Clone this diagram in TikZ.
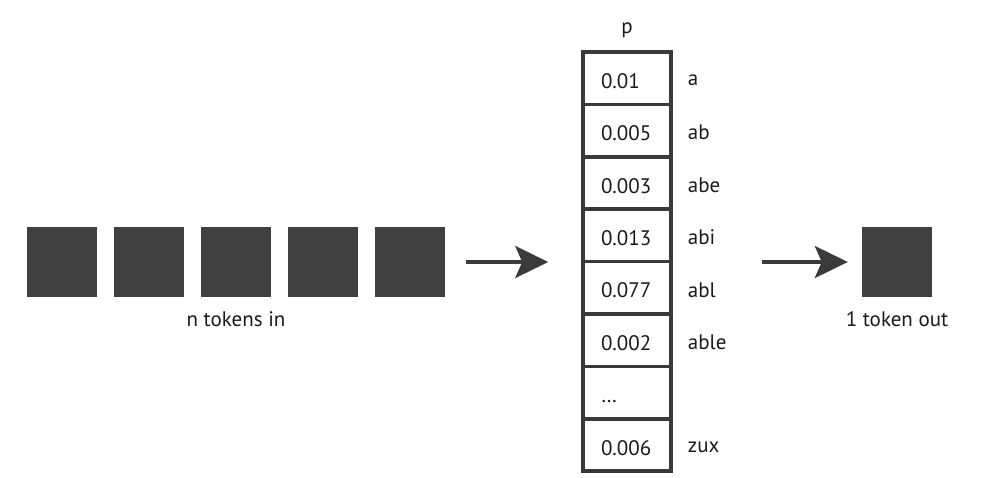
\documentclass[tikz,border=0pt]{standalone}
\usepackage{fontspec}
\setmainfont{PT Sans}
\usetikzlibrary{positioning,arrows.meta}
\definecolor{tokgray}{HTML}{404040}
\definecolor{linegray}{HTML}{3A3A3A}
\definecolor{txtgray}{HTML}{1A1A1A}
\tikzset{
  token/.style={fill=tokgray, minimum size=70pt, inner sep=0pt},
  cell/.style={draw=linegray, line width=3.5pt, minimum height=52.4pt, inner xsep=18pt,
    text width=52pt, text height=20pt, text depth=0pt, align=left, text=txtgray,
    font=\fontsize{21}{25}\selectfont},
  lbl/.style={text=txtgray, font=\fontsize{21}{25}\selectfont, inner sep=0pt},
  arr/.style={draw=linegray, line width=3.5pt, -{Stealth[length=33pt, width=32pt, inset=7pt]}}
}
\begin{document}
\begin{tikzpicture}[x=1pt, y=-1pt]
    \useasboundingbox (0, 0) rectangle (987, 477);
    % input tokens
    \foreach \i in {1,...,5}
        \node [token] (in\i) at ({62 + 87*(\i-1)}, 262) {};
    \node [lbl, below=14pt of in3] (inlabel) {n tokens in};
    % probability column
    \foreach \val/\lab [count=\i] in {0.01/a, 0.005/ab, 0.003/abe, 0.013/abi, 0.077/abl, 0.002/able, {\ldots}/{}, 0.006/zux} {
        \node [cell] (cell\i) at (627, {52 + 52.4*(\i-0.5)}) {\val};
        \node [lbl, anchor=west] (name\i) at ([xshift=15pt, yshift=-2pt]cell\i.east) {\lab};
    }
    \node [lbl, above=12pt of cell1] (plabel) {p};
    % output token
    \node [token] (out) at (897, 262) {};
    \node [lbl, below=14pt of out] (outlabel) {1 token out};
    \coordinate (outstart) at (762, 262);
    % arrows
    \draw [arr, shorten <=21pt, shorten >=33pt] (in5.east) -- (in5.east -| cell4.west);
    \draw [arr, shorten >=14pt] (outstart) -- (out.west);
\end{tikzpicture}
\end{document}
